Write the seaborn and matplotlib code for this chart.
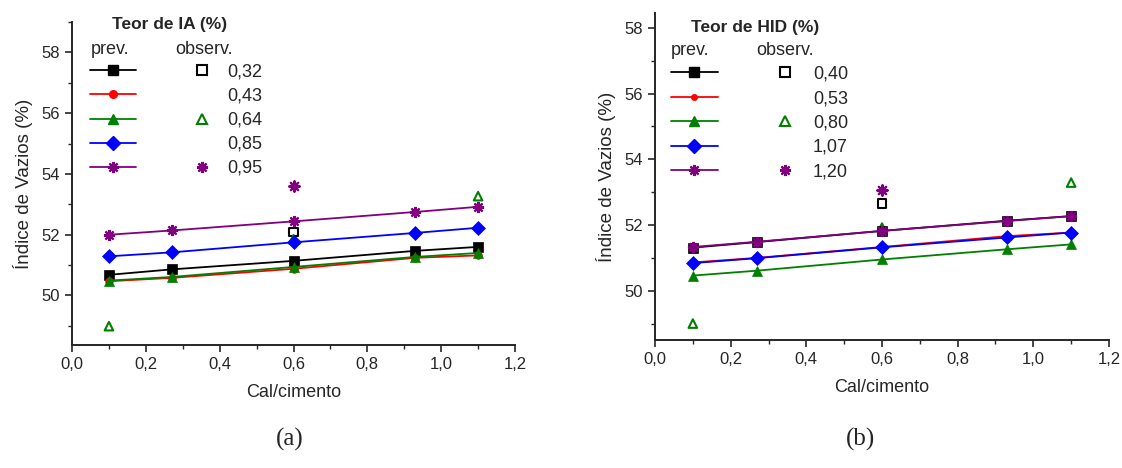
import matplotlib
matplotlib.use("Agg")
import matplotlib.pyplot as plt
from matplotlib.lines import Line2D
from matplotlib.ticker import MultipleLocator, FuncFormatter
import seaborn as sns

# ---------------- data ----------------
cal_cimento = [0.10, 0.27, 0.60, 0.93, 1.10]

# (a) Teor de IA (%)
ia_labels = ["0,32", "0,43", "0,64", "0,85", "0,95"]
ia_prev_032 = [50.68, 50.86, 51.14, 51.47, 51.60]
ia_prev_043 = [50.47, 50.58, 50.88, 51.24, 51.32]
ia_prev_064 = [50.49, 50.61, 50.94, 51.27, 51.40]
ia_prev_085 = [51.29, 51.42, 51.75, 52.06, 52.23]
ia_prev_095 = [52.00, 52.14, 52.44, 52.75, 52.92]
ia_obs_032_x = [0.60]
ia_obs_032_y = [52.09]
ia_obs_064_x = [0.10, 0.60, 1.10]
ia_obs_064_y = [48.99, 51.85, 53.27]
ia_obs_095_x = [0.60]
ia_obs_095_y = [53.60]

# (b) Teor de HID (%)
hid_labels = ["0,40", "0,53", "0,80", "1,07", "1,20"]
hid_prev_040 = [51.31, 51.48, 51.82, 52.13, 52.27]
hid_prev_053 = [50.86, 51.00, 51.33, 51.66, 51.77]
hid_prev_080 = [50.46, 50.61, 50.95, 51.26, 51.41]
hid_prev_107 = [50.84, 50.99, 51.32, 51.62, 51.77]
hid_prev_120 = [51.33, 51.49, 51.82, 52.12, 52.27]
hid_obs_040_x = [0.60]
hid_obs_040_y = [52.66]
hid_obs_080_x = [0.10, 0.60, 1.10]
hid_obs_080_y = [49.00, 51.92, 53.29]
hid_obs_120_x = [0.60]
hid_obs_120_y = [53.07]

# ---------------- style ----------------
sns.set_style("ticks")
plt.rcParams["font.family"] = ["Liberation Sans", "DejaVu Sans"]
plt.rcParams["axes.linewidth"] = 1.4
plt.rcParams["xtick.major.width"] = 1.2
plt.rcParams["ytick.major.width"] = 1.2
plt.rcParams["xtick.minor.width"] = 1.0
plt.rcParams["ytick.minor.width"] = 1.0

colors = ["#000000", "#FF0000", "#008000", "#0000FF", "#800080"]
ast = (8, 2, 0)
prev_markers = ["s", "o", "^", "D", ast]
LEG_FS = 13

fig = plt.figure(figsize=(11.22, 4.68), dpi=100)
axA = fig.add_axes([0.0642, 0.2628, 0.3948, 0.690])
axB = fig.add_axes([0.5838, 0.2735, 0.4046, 0.6987])


def comma(v, pos):
    return f"{v:.1f}".replace(".", ",")


def draw_panel(ax, prevs, circle_size, obs, labels, title, ylim,
               leg_anchor, leg_geom, hdr):
    # observed (open markers) first, underneath the model lines
    for (ox, oy, c, m) in obs:
        if m == ast:
            sns.scatterplot(x=ox, y=oy, ax=ax, marker=m, color=c, s=55,
                            linewidth=1.6, zorder=2)
        else:
            sns.scatterplot(x=ox, y=oy, ax=ax, marker=m, facecolor="none",
                            edgecolor=c, s=38, linewidth=1.5, zorder=2)
    for i, (vals, c, m) in enumerate(zip(prevs, colors, prev_markers)):
        ms = circle_size if m == "o" else 7
        if m == ast:
            sns.lineplot(x=cal_cimento, y=vals, ax=ax, color=c, linewidth=1.3,
                         marker=m, markersize=8, markeredgecolor=c,
                         markeredgewidth=1.6, zorder=3 + i)
        else:
            sns.lineplot(x=cal_cimento, y=vals, ax=ax, color=c, linewidth=1.3,
                         marker=m, markersize=ms, markeredgecolor=c,
                         markerfacecolor=c, markeredgewidth=0.5, zorder=3 + i)

    ax.set_xlim(0, 1.2)
    ax.set_ylim(*ylim)
    ax.xaxis.set_major_locator(MultipleLocator(0.2))
    ax.xaxis.set_minor_locator(MultipleLocator(0.1))
    ax.yaxis.set_major_locator(MultipleLocator(2))
    ax.yaxis.set_minor_locator(MultipleLocator(1))
    ax.xaxis.set_major_formatter(FuncFormatter(comma))
    ax.tick_params(axis="both", which="major", length=5, labelsize=12, direction="out")
    ax.tick_params(axis="both", which="minor", length=3, direction="out")
    sns.despine(ax=ax)
    ax.set_xlabel("Cal/cimento", fontsize=13, labelpad=8.5)
    ax.set_ylabel("Índice de Vazios (%)", fontsize=13.5, labelpad=6)

    # legend: prev. column (line + marker), observ. column (open marker)
    prev_h = []
    for c, m in zip(colors, prev_markers):
        if m == ast:
            prev_h.append(Line2D([], [], color=c, lw=1.3, marker=m, ms=8,
                                 mec=c, mew=1.6))
        else:
            prev_h.append(Line2D([], [], color=c, lw=1.3, marker=m,
                                 ms=(circle_size if m == "o" else 7),
                                 mec=c, mfc=c))
    obs_set = {m: c for (_, _, c, m) in obs}
    obs_h = []
    for c, m in zip(colors, prev_markers):
        if m in obs_set and obs_set[m] == c:
            if m == ast:
                obs_h.append(Line2D([], [], ls="none", marker=m, ms=8, mec=c,
                                    mew=1.6, color=c))
            else:
                obs_h.append(Line2D([], [], ls="none", marker=m, ms=6.5, mec=c,
                                    mfc="none", mew=1.5))
        else:
            obs_h.append(Line2D([], [], ls="none", marker=None))
    hl, tp, cs, ls = leg_geom
    ax.legend(prev_h + obs_h, [""] * 5 + labels, ncol=2,
              loc="upper left", bbox_to_anchor=leg_anchor,
              frameon=False, fontsize=LEG_FS, handlelength=hl,
              handletextpad=tp, columnspacing=cs, labelspacing=ls,
              borderpad=0, borderaxespad=0)
    ax.text(hdr[0], hdr[1], title, transform=ax.transAxes, fontsize=12.5,
            fontweight="bold", va="center", ha="left")
    ax.text(hdr[2], hdr[3], "prev.", transform=ax.transAxes, fontsize=LEG_FS,
            va="center", ha="left")
    ax.text(hdr[4], hdr[3], "observ.", transform=ax.transAxes, fontsize=LEG_FS,
            va="center", ha="left")


draw_panel(
    axA,
    [ia_prev_032, ia_prev_043, ia_prev_064, ia_prev_085, ia_prev_095],
    5.5,
    [(ia_obs_032_x, ia_obs_032_y, colors[0], "s"),
     (ia_obs_064_x, ia_obs_064_y, colors[2], "^"),
     (ia_obs_095_x, ia_obs_095_y, colors[4], ast)],
    ia_labels, "Teor de IA (%)", (48.37, 59.0),
    (0.040, 0.871), (2.55, 0.1, 2.3, 0.39),
    (0.090, 0.994, 0.043, 0.915, 0.232),
)
draw_panel(
    axB,
    [hid_prev_040, hid_prev_053, hid_prev_080, hid_prev_107, hid_prev_120],
    4.0,
    [(hid_obs_040_x, hid_obs_040_y, colors[0], "s"),
     (hid_obs_080_x, hid_obs_080_y, colors[2], "^"),
     (hid_obs_120_x, hid_obs_120_y, colors[4], ast)],
    hid_labels, "Teor de HID (%)", (48.5, 58.45),
    (0.035, 0.839), (2.6, 0.25, 2.17, 0.41),
    (0.080, 0.957, 0.035, 0.885, 0.222),
)

fig.text(0.2585, 0.06, "(a)", fontsize=18, family=["Liberation Serif", "DejaVu Serif"],
         ha="center", va="center")
fig.text(0.7665, 0.06, "(b)", fontsize=18, family=["Liberation Serif", "DejaVu Serif"],
         ha="center", va="center")

fig.savefig("out.png", dpi=100)
